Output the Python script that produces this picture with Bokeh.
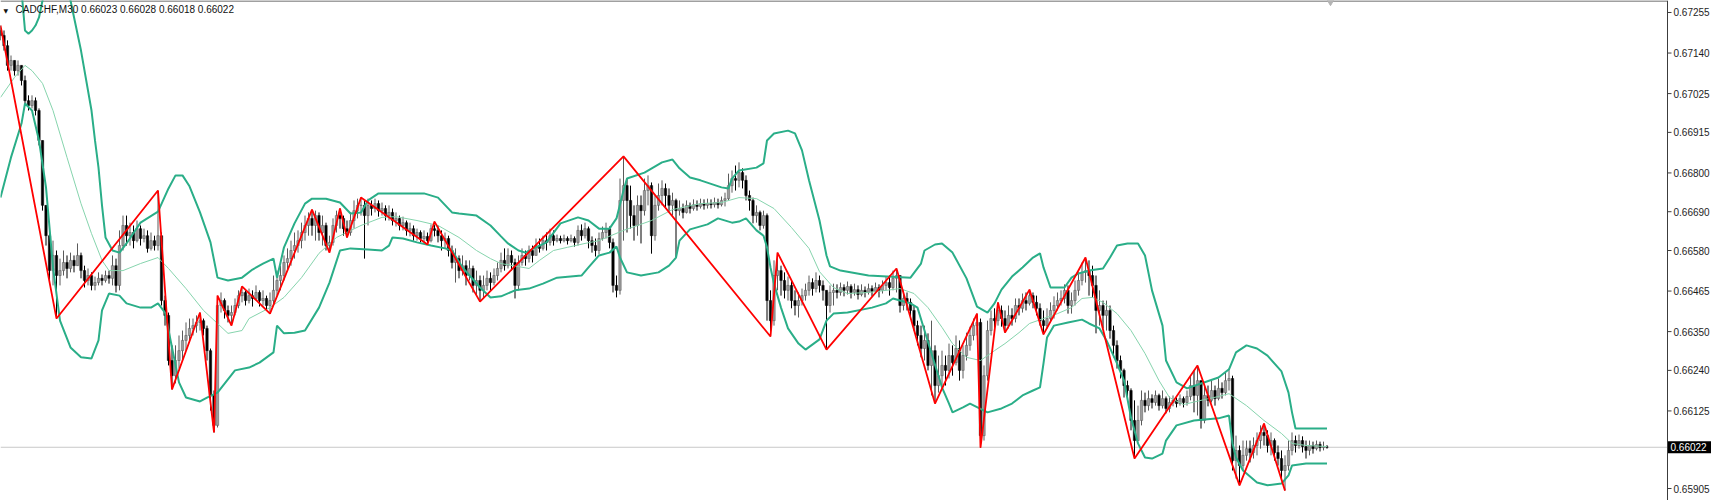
from bokeh.plotting import figure
from bokeh.models import Range1d, Label, ColumnDataSource
from bokeh.core.properties import value
from bokeh.embed import file_html
from bokeh.resources import INLINE

# ---------------- data (prices in points of 0.00001) ----------------
symbol = "CADCHF,M30"
last_ohlc = [0.66023, 0.66028, 0.66018, 0.66022]
last_price = 0.66022
tick_vals = [0.67255, 0.67140, 0.67025, 0.66915, 0.66800, 0.66690, 0.66580,
             0.66465, 0.66350, 0.66240, 0.66125, 0.65905]

first_open_pts = 67204
close_pts = [
67190,67161,67105,67119,67090,67105,67062,67005,66991,67005,66977,66892,66708,66622,66523,66566,66509,66523,66546,66529,
66552,66537,66566,66523,66495,66509,66481,66489,66501,66495,66509,66501,66537,66481,66594,66651,66622,66631,66608,66642,
66614,66622,66586,66608,66594,66622,66438,66396,66268,66225,66268,66296,66325,66339,66359,66367,66376,66381,66359,66296,
66169,66084,66424,66438,66410,66396,66404,66424,66452,66461,66438,66452,66444,66461,66438,66444,66424,66438,66467,66495,
66509,66546,66557,66580,66594,66608,66631,66651,66671,66651,66679,66631,66651,66594,66603,66651,66679,66671,66642,66631,
66665,66693,66708,66708,66679,66708,66699,66713,66693,66699,66679,66688,66665,66671,66651,66659,66637,66642,66622,66631,
66614,66620,66608,66642,66637,66622,66608,66614,66580,66546,66557,66523,66537,66509,66529,66481,66495,66467,66481,66501,
66489,66509,66529,66552,66537,66566,66546,66481,66546,66566,66557,66580,66566,66594,66586,66608,66603,66622,66608,66614,
66608,66614,66608,66614,66603,66637,66622,66642,66608,66594,66580,66614,66631,66642,66603,66481,66467,66722,66764,66722,
66679,66651,66708,66693,66750,66764,66622,66708,66736,66756,66736,66708,66722,66693,66699,66688,66708,66699,66710,66705,
66713,66708,66713,66710,66716,66710,66722,66727,66764,66784,66779,66801,66779,66736,66722,66679,66688,66651,66679,66438,
66381,66509,66523,66495,66467,66481,66438,66424,66438,66452,66467,66489,66472,66495,66481,66467,66424,66461,66467,66461,
66475,66467,66478,66461,66469,66455,66467,66461,66472,66464,66475,66467,66481,66489,66475,66501,66509,66424,66444,66433,
66410,66367,66339,66302,66325,66254,66296,66197,66225,66254,66240,66282,66262,66302,66240,66282,66311,66339,66367,66376,
66055,66225,66353,66387,66381,66410,66387,66367,66396,66387,66424,66416,66438,66430,66452,66433,66416,66381,66367,66387,
66410,66424,66438,66444,66467,66424,66438,66467,66495,66518,66523,66509,66481,66410,66424,66396,66410,66353,66311,66268,
66240,66197,66183,66098,66041,66098,66155,66140,66160,66149,66169,66140,66160,66132,66149,66155,66146,66160,66149,66166,
66197,66169,66211,66098,66169,66155,66183,66160,66189,66177,66211,66217,65984,66013,65970,65999,66018,66007,66027,66041,
66064,66055,66027,66041,66007,65990,65956,65970,66013,66041,66027,66041,66024,66013,66027,66018,66030,66021,66023,66022]
high_pts = [
67218,67204,67176,67133,67119,67119,67105,67076,67020,67020,67014,66983,66892,66708,66637,66608,66580,66557,66580,66566,
66574,66566,66600,66574,66537,66529,66518,66506,66518,66512,66523,66523,66566,66557,66637,66679,66679,66659,66651,66665,
66651,66642,66637,66631,66622,66750,66631,66452,66404,66311,66311,66339,66353,66376,66387,66387,66396,66404,66387,66367,
66302,66183,66452,66461,66444,66424,66424,66444,66467,66478,66467,66472,66467,66481,66467,66467,66452,66461,66509,66523,
66537,66566,66586,66608,66631,66637,66659,66679,66688,66696,66693,66688,66679,66659,66622,66671,66693,66699,66679,66665,
66688,66722,66727,66730,66722,66727,66722,66727,66722,66716,66708,66708,66699,66688,66679,66676,66665,66659,66651,66642,
66637,66637,66631,66654,66662,66651,66637,66631,66622,66594,66586,66566,66566,66552,66552,66537,66523,66509,66509,66523,
66518,66529,66546,66574,66586,66586,66580,66557,66566,66586,66580,66594,66594,66614,66614,66622,66631,66642,66637,66625,
66622,66625,66620,66625,66620,66651,66654,66659,66648,66620,66614,66631,66648,66659,66648,66614,66509,66784,66847,66784,
66764,66708,66736,66736,66784,66793,66773,66736,66770,66779,66770,66756,66744,66727,66722,66713,66722,66716,66725,66722,
66727,66725,66727,66725,66730,66727,66733,66744,66798,66807,66821,66830,66813,66793,66750,66730,66708,66693,66693,66685,
66467,66552,66574,66537,66518,66506,66495,66467,66461,66472,66486,66509,66501,66518,66509,66495,66467,66481,66486,66484,
66489,66484,66492,66484,66486,66481,66484,66478,66486,66481,66489,66484,66495,66506,66509,66523,66529,66509,66467,66461,
66444,66424,66381,66367,66367,66345,66381,66311,66282,66296,66282,66316,66311,66339,66325,66311,66347,66364,66387,66401,
66387,66254,66381,66410,66416,66433,66424,66410,66424,66416,66444,66444,66458,66461,66469,66461,66452,66430,66410,66416,
66433,66450,66461,66467,66484,66481,66461,66495,66518,66546,66560,66552,66537,66509,66467,66438,66438,66424,66367,66325,
66282,66245,66211,66189,66155,66140,66183,66177,66183,66172,66183,66174,66183,66166,66166,66169,66163,66172,66166,66183,
66225,66240,66254,66211,66197,66197,66211,66197,66217,66206,66234,66245,66225,66055,66027,66041,66041,66041,66050,66064,
66084,66089,66070,66064,66047,66027,66013,65999,66041,66064,66055,66058,66053,66041,66041,66038,66041,66038,66038,66028]
low_pts = [
67176,67147,67090,67090,67076,67076,67048,66991,66977,66983,66963,66878,66693,66594,66495,66481,66387,66481,66509,66501,
66518,66518,66537,66501,66475,66481,66467,66467,66481,66481,66489,66486,66481,66461,66467,66580,66594,66594,66586,66603,
66594,66603,66574,66580,66580,66580,66424,66367,66254,66186,66203,66245,66268,66296,66325,66339,66347,66353,66339,66268,
66126,66064,66078,66404,66387,66376,66367,66396,66416,66433,66424,66430,66421,66438,66421,66424,66410,66401,66424,66452,
66467,66495,66523,66537,66557,66574,66586,66608,66622,66622,66608,66608,66594,66580,66574,66594,66631,66642,66622,66617,
66622,66642,66671,66679,66557,66651,66679,66688,66676,66679,66665,66665,66651,66648,66637,66637,66622,66620,66608,66608,
66603,66603,66597,66603,66620,66603,66580,66586,66563,66529,66489,66501,66509,66481,66495,66461,66452,66435,66444,66467,
66467,66481,66495,66518,66523,66529,66523,66444,66467,66537,66537,66546,66546,66566,66574,66580,66580,66594,66594,66603,
66600,66603,66597,66603,66591,66594,66608,66614,66586,66574,66563,66569,66608,66614,66586,66461,66447,66455,66608,66631,
66642,66608,66622,66600,66679,66708,66571,66608,66693,66708,66699,66688,66679,66560,66679,66671,66685,66685,66693,66693,
66699,66696,66699,66699,66702,66699,66705,66705,66722,66744,66750,66759,66756,66722,66693,66657,66659,66637,66642,66381,
66336,66367,66467,66452,66444,66438,66416,66396,66390,66424,66438,66452,66452,66461,66461,66438,66299,66404,66424,66444,
66452,66450,66455,66444,66452,66441,66450,66447,66455,66450,66458,66447,66458,66467,66452,66467,66461,66404,66410,66410,
66387,66353,66311,66277,66268,66240,66169,66146,66177,66197,66197,66217,66225,66254,66211,66217,66268,66296,66325,66339,
66021,66041,66211,66339,66359,66367,66364,66347,66359,66367,66376,66396,66404,66410,66424,66416,66396,66367,66342,66359,
66376,66387,66410,66424,66430,66401,66401,66424,66452,66481,66489,66452,66447,66345,66367,66359,66353,66330,66277,66245,
66217,66163,66163,66070,65990,66041,66084,66121,66126,66132,66140,66126,66132,66118,66121,66138,66135,66140,66135,66140,
66155,66121,66112,66075,66090,66138,66149,66140,66155,66160,66169,66183,65956,65933,65914,65956,65984,65979,65990,65999,
66018,66027,66007,65999,65984,65970,65933,65899,65956,65999,66007,66018,66007,65990,65999,66004,66013,66010,66013,66018]

# ZigZag turning points (bar index, price)
zz_bar = [0,16,45,49,57,61,62,66,69,77,89,94,97,99,103,122,124,137,178,220,222,236,256,267,279,280,285,287,294,298,310,324,342,354,361,367]
zz_pts = [67218,66387,66750,66186,66404,66064,66452,66367,66478,66401,66696,66574,66699,66617,66730,66597,66662,66435,66847,66336,
          66574,66299,66529,66146,66401,66021,66433,66347,66469,66342,66560,65990,66254,65914,66089,65899]

# Bollinger bands (bar index, price)
ub_bar = [0,4,6,7,8,9,10,11,12,13,16,17,20,23,26,27,28,29,30,32,34,36,40,45,48,50,52,54,57,60,62,65,69,72,75,78,79,81,84,87,89,93,97,100,103,105,108,121,125,129,131,136,140,143,145,148,150,153,156,160,165,168,171,174,176,178,179,184,189,192,194,197,200,206,208,209,211,216,218,219,221,225,227,229,231,234,236,237,240,248,260,263,264,267,269,272,276,279,282,284,286,289,292,295,297,298,300,304,306,308,311,315,317,319,322,325,327,329,332,333,336,339,343,348,351,353,356,359,362,366,368,369,370,375,379]
ub_pts = [67402,67332,67317,67204,67195,67204,67218,67241,67289,67346,67402,67374,67289,67147,66977,66892,66815,66708,66617,66580,66574,66600,66659,66690,66756,66793,66793,66762,66688,66603,66503,66495,66503,66526,66543,66557,66503,66589,66657,66713,66727,66727,66716,66685,66688,66722,66742,66742,66730,66688,66685,66679,66651,66620,66600,66580,66574,66589,66603,66657,66674,66665,66642,66642,66671,66750,66784,66801,66830,66838,66813,66787,66779,66759,66756,66784,66807,66815,66827,66892,66912,66920,66912,66864,66779,66665,66566,66535,66523,66509,66503,66543,66580,66597,66600,66574,66501,66421,66404,66430,66469,66506,66532,66560,66572,66532,66475,66475,66503,66515,66523,66529,66560,66594,66600,66600,66566,66467,66367,66268,66206,66189,66203,66220,66243,66291,66311,66302,66282,66237,66177,66121,66075,66075,66075]
mb_bar = [0,4,7,9,12,15,19,23,26,29,31,35,40,45,48,53,58,62,65,69,71,77,81,86,91,96,103,109,113,119,125,131,136,140,143,151,154,158,162,167,171,178,186,192,200,206,211,216,221,226,231,234,238,242,248,253,257,261,265,269,272,276,280,284,287,291,294,298,302,306,309,312,315,319,323,327,331,334,338,343,348,351,356,361,366,369,373,379]
mb_pts = [67014,67071,67105,67090,67054,66977,66844,66713,66628,66552,66523,66523,66543,66560,66529,66472,66410,66373,66345,66353,66387,66418,66447,66503,66572,66617,66651,66674,66676,66665,66651,66617,66580,66557,66543,66529,66552,66580,66589,66600,66608,66637,66665,66696,66713,66716,66730,66727,66699,66645,66586,66520,66475,66458,66461,66467,66472,66458,66418,66362,66316,66277,66268,66296,66316,66347,66373,66387,66401,66418,66444,66447,66433,66401,66353,66288,66211,66163,66143,66155,66166,66174,66140,66098,66061,66033,66027,66024]
lb_bar = [0,3,6,7,9,11,13,15,17,20,23,26,28,29,31,34,36,40,43,45,47,49,51,53,57,59,62,67,71,74,78,79,81,84,87,91,94,97,100,105,109,111,112,115,119,123,127,129,132,137,140,143,147,151,155,159,166,168,171,174,176,177,179,183,188,191,193,194,197,202,205,209,211,213,216,218,219,220,221,223,225,228,230,234,236,238,242,249,253,255,257,260,262,264,266,269,271,272,275,277,282,286,289,292,295,297,298,299,301,305,309,311,314,316,319,321,323,325,327,329,332,333,336,341,348,351,352,353,355,359,362,366,368,369,373,379]
lb_pts = [66730,66844,66940,66997,66977,66892,66759,66532,66381,66305,66277,66274,66325,66410,66458,66452,66430,66418,66418,66430,66404,66305,66206,66163,66152,66163,66177,66240,66248,66262,66291,66367,66345,66347,66353,66418,66489,66580,66586,66583,66580,66594,66617,66614,66603,66594,66586,66580,66532,66475,66447,66450,66467,66472,66486,66503,66509,66532,66566,66574,66591,66560,66518,66509,66518,66537,66560,66608,66640,66654,66671,66659,66662,66671,66637,66622,66589,66532,66486,66418,66359,66316,66299,66328,66381,66401,66404,66418,66430,66444,66438,66430,66418,66353,66288,66192,66146,66121,66135,66146,66121,66132,66146,66169,66183,66192,66260,66333,66367,66376,66384,66373,66359,66325,66260,66211,66106,66033,65993,65990,66004,66041,66084,66098,66104,66112,66033,65993,65956,65922,65914,65919,65942,65970,65976,65976]

# ---------------- derived series ----------------
PT = 1e-5
closes = [v * PT for v in close_pts]
highs = [v * PT for v in high_pts]
lows = [v * PT for v in low_pts]
opens = [first_open_pts * PT] + closes[:-1]
bars = list(range(len(closes)))

up = [i for i in bars if closes[i] >= opens[i]]
dn = [i for i in bars if closes[i] < opens[i]]

def src(idx):
    return ColumnDataSource(dict(
        x=[bars[i] for i in idx],
        top=[max(opens[i], closes[i]) for i in idx],
        bottom=[min(opens[i], closes[i]) for i in idx],
        high=[highs[i] for i in idx],
        low=[lows[i] for i in idx],
    ))

src_up, src_dn = src(up), src(dn)

# ---------------- layout / styles ----------------
W, H = 1717, 500
PX_PER_BAR = 3.5
AXIS_PX = 1667            # x pixel of the price scale line
Y_TOP_PRICE, Y_BOT_PRICE = 0.67289, 0.65871
BAND_COLOR = "#2aae88"
MID_COLOR = "#86d4ad"
ZZ_COLOR = "#ff0000"
AXIS_COLOR = "#3c3c3c"
FONT = value("Liberation Sans")

def bx(px):               # pixel column -> bar coordinate
    return px / PX_PER_BAR

p = figure(frame_width=W, frame_height=H,
           x_range=Range1d(0, bx(W)), y_range=Range1d(Y_BOT_PRICE, Y_TOP_PRICE),
           output_backend="svg", toolbar_location=None,
           y_axis_location=None, x_axis_location=None,
           min_border_left=0, min_border_right=0, min_border_top=0, min_border_bottom=0,
           background_fill_color="white", border_fill_color="white")
p.outline_line_color = None
p.grid.visible = False

# window top border and chart-shift marker
p.segment(x0=[0], x1=[bx(AXIS_PX)], y0=[Y_TOP_PRICE], y1=[Y_TOP_PRICE],
          line_color="#a0a0a0", line_width=3)
p.scatter(x=[bx(1330)], y=[Y_TOP_PRICE], marker="inverted_triangle", size=9,
          fill_color="#b4b4b4", line_color="#b4b4b4")

# current price line (chart area only)
p.segment(x0=[0], x1=[bx(AXIS_PX)], y0=[last_price], y1=[last_price],
          line_color="#c8c8c8", line_width=1)

# candles
p.segment(x0="x", y0="high", x1="x", y1="low", source=src_up, line_color="#5a5a5a", line_width=1)
p.segment(x0="x", y0="high", x1="x", y1="low", source=src_dn, line_color="#000000", line_width=1)
p.vbar(x="x", width=0.68, top="top", bottom="bottom", source=src_up,
       fill_color="#9c9c9c", line_color="#555555", line_width=0.5)
p.vbar(x="x", width=0.68, top="top", bottom="bottom", source=src_dn,
       fill_color="#000000", line_color="#000000", line_width=0.5)

# Bollinger bands
p.line(ub_bar, [v * PT for v in ub_pts], line_color=BAND_COLOR, line_width=2)
p.line(lb_bar, [v * PT for v in lb_pts], line_color=BAND_COLOR, line_width=2)
p.line(mb_bar, [v * PT for v in mb_pts], line_color=MID_COLOR, line_width=1)

# ZigZag
p.line(zz_bar, [v * PT for v in zz_pts], line_color=ZZ_COLOR, line_width=1.8)

# price scale (right side)
p.segment(x0=[bx(AXIS_PX)], x1=[bx(AXIS_PX)], y0=[Y_BOT_PRICE], y1=[Y_TOP_PRICE],
          line_color=AXIS_COLOR, line_width=1)
p.segment(x0=[bx(AXIS_PX)] * len(tick_vals), x1=[bx(AXIS_PX + 4)] * len(tick_vals),
          y0=tick_vals, y1=tick_vals, line_color=AXIS_COLOR, line_width=1)
p.text(x=[bx(AXIS_PX + 6)] * len(tick_vals), y=tick_vals,
       text=["%.5f" % v for v in tick_vals], text_baseline="middle", text_align="left",
       text_font=FONT, text_font_size=value("10px"), text_color="#1e1e1e")

# current price tag
p.rect(x=[bx(AXIS_PX + 22)], y=[last_price], width=43, height=12,
       width_units="screen", height_units="screen", fill_color="black", line_color=None)
p.text(x=[bx(AXIS_PX + 3)], y=[last_price], text=["%.5f" % last_price],
       text_baseline="middle", text_align="left", text_font=FONT,
       text_font_size=value("10px"), text_color="white")

# header text
title_text = symbol + "  " + " ".join("%.5f" % v for v in last_ohlc)
p.add_layout(Label(x=bx(15), y=Y_TOP_PRICE, text=title_text, text_baseline="top",
                   text_align="left", text_font="Liberation Sans", text_font_size="10px",
                   text_color="#111111", y_offset=-3))
p.add_layout(Label(x=bx(3), y=Y_TOP_PRICE, text="\u25bc", text_baseline="top",
                   text_align="left", text_font="DejaVu Sans", text_font_size="6px",
                   text_color="#111111", y_offset=-6))

open("out.html", "w").write(file_html(p, INLINE))
